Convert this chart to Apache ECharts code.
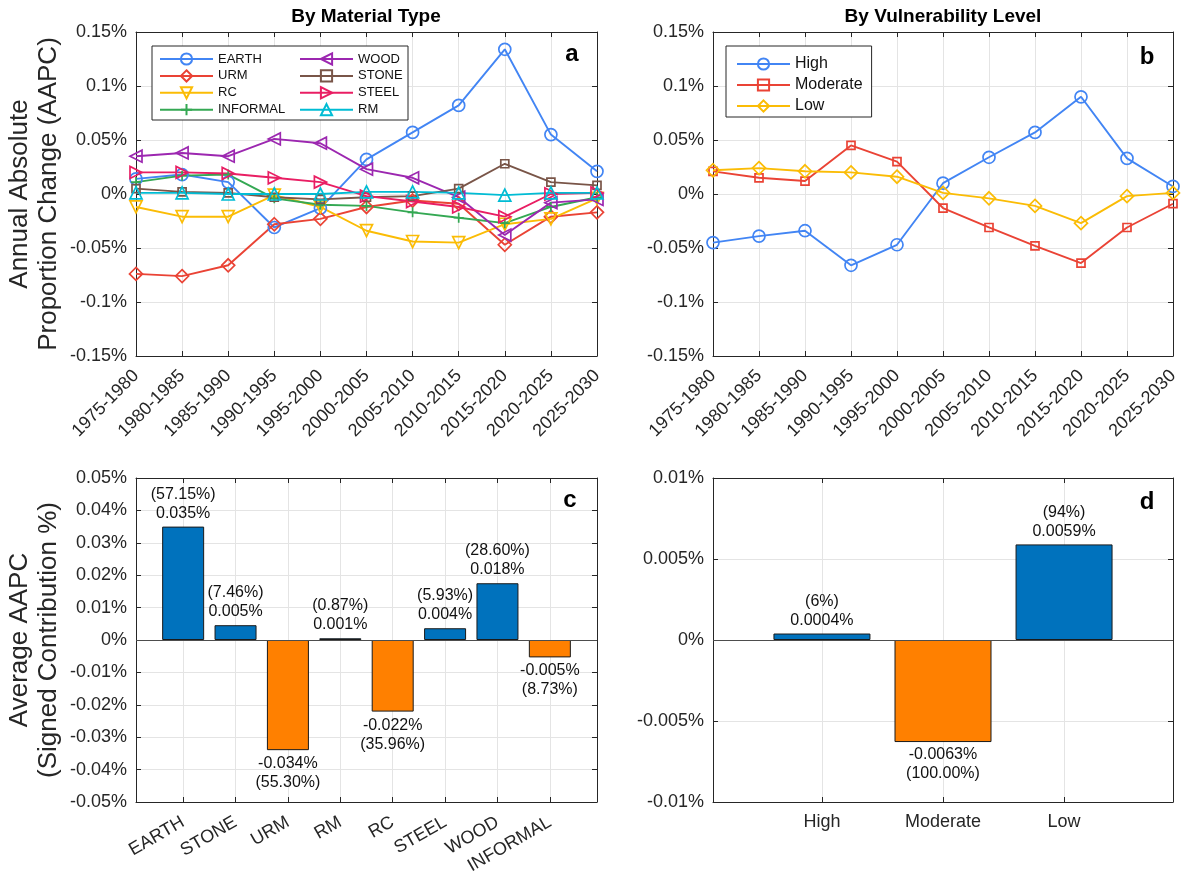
<!DOCTYPE html>
<html>
<head>
<meta charset="utf-8">
<script src="https://cdn.jsdelivr.net/npm/echarts@6/dist/echarts.min.js"></script>
<style>
  html, body { margin: 0; padding: 0; background: #ffffff; }
  #chart { width: 1186px; height: 872px; }
</style>
</head>
<body>
<div id="chart"></div>
<script>
// ---- data ----
const periods = ['1975-1980', '1980-1985', '1985-1990', '1990-1995', '1995-2000', '2000-2005',
                 '2005-2010', '2010-2015', '2015-2020', '2020-2025', '2025-2030'];

// AAPC by material type (%)
const earth    = [0.014, 0.018, 0.011, -0.031, -0.013, 0.032, 0.057, 0.082, 0.134, 0.055, 0.021];
const urm      = [-0.074, -0.076, -0.066, -0.028, -0.023, -0.012, -0.006, -0.009, -0.047, -0.021, -0.017];
const rc       = [-0.012, -0.021, -0.021, -0.001, -0.012, -0.034, -0.044, -0.045, -0.028, -0.023, -0.004];
const informal = [0.011, 0.017, 0.018, -0.004, -0.010, -0.011, -0.017, -0.022, -0.027, -0.012, -0.003];
const wood     = [0.035, 0.038, 0.035, 0.051, 0.047, 0.023, 0.015, -0.003, -0.038, -0.008, -0.005];
const stone    = [0.005, 0.002, 0.001, -0.003, -0.005, -0.003, -0.002, 0.005, 0.028, 0.011, 0.008];
const steel    = [0.020, 0.020, 0.019, 0.015, 0.011, -0.002, -0.007, -0.012, -0.021, 0.000, 0.001];
const rm       = [0.001, 0.001, 0.000, 0.000, 0.000, 0.002, 0.002, 0.001, -0.001, 0.001, 0.001];

// AAPC by vulnerability level (%)
const high     = [-0.045, -0.039, -0.034, -0.066, -0.047, 0.010, 0.034, 0.057, 0.090, 0.033, 0.007];
const moderate = [0.021, 0.015, 0.012, 0.045, 0.030, -0.013, -0.031, -0.048, -0.064, -0.031, -0.009];
const low      = [0.022, 0.024, 0.021, 0.020, 0.016, 0.001, -0.004, -0.011, -0.027, -0.002, 0.001];

// average AAPC per material and its signed contribution share
const barMaterials     = ['EARTH', 'STONE', 'URM', 'RM', 'RC', 'STEEL', 'WOOD', 'INFORMAL'];
const barMaterialAAPC  = [0.0350, 0.00457, -0.0340, 0.00053, -0.0221, 0.00363, 0.01752, -0.00537];
const barMaterialShare = ['57.15', '7.46', '55.30', '0.87', '35.96', '5.93', '28.60', '8.73'];

// average AAPC per vulnerability level and its signed contribution share
const barLevels     = ['High', 'Moderate', 'Low'];
const barLevelAAPC  = [0.0004, -0.0063, 0.0059];
const barLevelShare = ['6', '100.00', '94'];

// ---- styling ----
const FONT = "'Liberation Sans', Arial, Helvetica, sans-serif";
const AX = '#262626';
const GRIDC = '#e4e4e4';
const BLUE_BAR = '#0072BD';
const ORANGE_BAR = '#FF8000';

const TRI_UP = 'triangle';
const PLUS = 'path://M5,0L5,10M0,5L10,5';

const materialStyle = {
  EARTH:    { data: earth,    color: '#4285F4', symbol: 'circle',  size: 12, rotate: 0 },
  URM:      { data: urm,      color: '#EA4335', symbol: 'diamond', size: 13, rotate: 0 },
  RC:       { data: rc,       color: '#FBBC05', symbol: TRI_UP,    size: 12, rotate: 180 },
  INFORMAL: { data: informal, color: '#34A853', symbol: PLUS,      size: 10, rotate: 0 },
  WOOD:     { data: wood,     color: '#9C27B0', symbol: TRI_UP,    size: 12, rotate: 90 },
  STONE:    { data: stone,    color: '#795548', symbol: 'rect',    size: 8,  rotate: 0 },
  STEEL:    { data: steel,    color: '#E91E63', symbol: TRI_UP,    size: 12, rotate: -90 },
  RM:       { data: rm,       color: '#00BCD4', symbol: TRI_UP,    size: 12, rotate: 0 }
};
const levelStyle = {
  High:     { data: high,     color: '#4285F4', symbol: 'circle',  size: 12, rotate: 0 },
  Moderate: { data: moderate, color: '#EA4335', symbol: 'rect',    size: 8,  rotate: 0 },
  Low:      { data: low,      color: '#FBBC05', symbol: 'diamond', size: 13, rotate: 0 }
};

function pct(v) {
  let r = Math.round(v * 1e6) / 1e6;
  if (r === 0) r = 0;
  return r + '%';
}

function lineSeries(name, s, axisIndex) {
  return {
    type: 'line', name: name, data: s.data,
    xAxisIndex: axisIndex, yAxisIndex: axisIndex,
    symbol: s.symbol, symbolSize: s.size, symbolRotate: s.rotate,
    lineStyle: { color: s.color, width: 1.9 },
    itemStyle: { color: 'rgba(255,255,255,0)', borderColor: s.color, borderWidth: 1.7 },
    emphasis: { disabled: true },
    z: 3
  };
}

function barSeries(names, values, shares, axisIndex, width, digits, dist) {
  return {
    type: 'bar', name: 'bars' + axisIndex,
    xAxisIndex: axisIndex, yAxisIndex: axisIndex,
    barWidth: width,
    data: names.map((n, i) => ({
      value: [i + 1, values[i]],
      itemStyle: { color: values[i] >= 0 ? BLUE_BAR : ORANGE_BAR },
      label: { position: values[i] >= 0 ? 'top' : 'bottom' }
    })),
    itemStyle: { borderColor: '#1a1a1a', borderWidth: 1 },
    label: {
      show: true, distance: dist, fontFamily: FONT, fontSize: 16, lineHeight: 19,
      color: '#111', align: 'center',
      formatter: p => {
        const v = values[p.dataIndex];
        const s = '(' + shares[p.dataIndex] + '%)';
        const t = v.toFixed(digits) + '%';
        return v >= 0 ? s + '\n' + t : t + '\n' + s;
      }
    },
    markLine: {
      silent: true, symbol: 'none', animation: false,
      label: { show: false },
      lineStyle: { color: '#4d4d4d', width: 1, type: 'solid' },
      data: [{ yAxis: 0 }]
    },
    emphasis: { disabled: true },
    z: 3
  };
}

const axisLine = { show: true, onZero: false, lineStyle: { color: AX, width: 1 } };
const tick = { show: true, inside: true, length: 5, lineStyle: { color: AX, width: 1 } };
const split = { show: true, lineStyle: { color: GRIDC, width: 1 } };
const tickFont = { color: AX, fontFamily: FONT, fontSize: 18 };

// the four boxes keep fixed positions; labels may sit outside them
const grids = [
  { left: 136, top: 32, width: 461, height: 324, outerBoundsMode: 'none', containLabel: false },
  { left: 713, top: 32, width: 460, height: 324, outerBoundsMode: 'none', containLabel: false },
  { left: 136, top: 478, width: 461, height: 324, outerBoundsMode: 'none', containLabel: false },
  { left: 713, top: 478, width: 460, height: 324, outerBoundsMode: 'none', containLabel: false }
];

const yRanges = [
  { min: -0.15, max: 0.15, interval: 0.05 },
  { min: -0.15, max: 0.15, interval: 0.05 },
  { min: -0.05, max: 0.05, interval: 0.01 },
  { min: -0.01, max: 0.01, interval: 0.005 }
];

const materialTicks = barMaterials.map((n, i) => i + 1);
const levelTicks = barLevels.map((n, i) => i + 1);

const xAxes = [
  { type: 'category', gridIndex: 0, data: periods, boundaryGap: false,
    axisLine, axisTick: Object.assign({ interval: 0 }, tick), splitLine: Object.assign({ interval: 0 }, split),
    axisLabel: Object.assign({ interval: 0, rotate: 45, margin: 17 }, tickFont) },
  { type: 'category', gridIndex: 1, data: periods, boundaryGap: false,
    axisLine, axisTick: Object.assign({ interval: 0 }, tick), splitLine: Object.assign({ interval: 0 }, split),
    axisLabel: Object.assign({ interval: 0, rotate: 45, margin: 17 }, tickFont) },
  { type: 'value', gridIndex: 2, min: 0.1, max: 8.9,
    axisLine, axisTick: Object.assign({ customValues: materialTicks }, tick), splitLine: split,
    axisLabel: Object.assign({ customValues: materialTicks, rotate: 30, margin: 19,
      formatter: v => barMaterials[Math.round(v) - 1] }, tickFont) },
  { type: 'value', gridIndex: 3, min: 0.1, max: 3.9,
    axisLine, axisTick: Object.assign({ customValues: levelTicks }, tick), splitLine: split,
    axisLabel: Object.assign({ customValues: levelTicks, margin: 11,
      formatter: v => barLevels[Math.round(v) - 1] }, tickFont) }
];
// mirrored top edges of each box
xAxes.push(
  { type: 'category', gridIndex: 0, position: 'top', data: periods, boundaryGap: false,
    axisLine, axisTick: Object.assign({ interval: 0 }, tick), axisLabel: { show: false }, splitLine: { show: false } },
  { type: 'category', gridIndex: 1, position: 'top', data: periods, boundaryGap: false,
    axisLine, axisTick: Object.assign({ interval: 0 }, tick), axisLabel: { show: false }, splitLine: { show: false } },
  { type: 'value', gridIndex: 2, position: 'top', min: 0.1, max: 8.9,
    axisLine, axisTick: Object.assign({ customValues: materialTicks }, tick),
    axisLabel: { show: false }, splitLine: { show: false } },
  { type: 'value', gridIndex: 3, position: 'top', min: 0.1, max: 3.9,
    axisLine, axisTick: Object.assign({ customValues: levelTicks }, tick),
    axisLabel: { show: false }, splitLine: { show: false } }
);

const yAxes = [];
yRanges.forEach((r, i) => {
  yAxes.push({ type: 'value', gridIndex: i, min: r.min, max: r.max, interval: r.interval,
    axisLine, axisTick: tick, splitLine: split,
    axisLabel: Object.assign({ margin: 9, formatter: pct }, tickFont) });
});
yRanges.forEach((r, i) => {
  yAxes.push({ type: 'value', gridIndex: i, position: 'right', min: r.min, max: r.max, interval: r.interval,
    axisLine, axisTick: tick, splitLine: { show: false }, axisLabel: { show: false } });
});

const series = [];
Object.keys(materialStyle).forEach(n => series.push(lineSeries(n, materialStyle[n], 0)));
Object.keys(levelStyle).forEach(n => series.push(lineSeries(n, levelStyle[n], 1)));
series.push(barSeries(barMaterials, barMaterialAAPC, barMaterialShare, 2, 42, 3, 4));
series.push(barSeries(barLevels, barLevelAAPC, barLevelShare, 3, 97, 4, 3));

const legendBase = {
  orient: 'vertical', selectedMode: false, itemWidth: 53, itemHeight: 14, z: 6
};

function txt(x, y, text, font, extra) {
  const el = {
    type: 'text', x: x, y: y, z: 10, silent: true,
    style: { text: text, font: font, fill: '#000', align: 'center', verticalAlign: 'middle',
             textAlign: 'center', textVerticalAlign: 'middle' }
  };
  if (extra) {
    if (extra.rotation !== undefined) el.rotation = extra.rotation;
    if (extra.style) Object.assign(el.style, extra.style);
  }
  return el;
}

const option = {
  animation: false,
  backgroundColor: '#ffffff',
  grid: grids,
  xAxis: xAxes,
  yAxis: yAxes,
  series: series,
  legend: [
    Object.assign({}, legendBase, {
      data: ['EARTH', 'URM', 'RC', 'INFORMAL'], left: 159, top: 52, itemGap: 2.9, padding: 0,
      textStyle: { fontFamily: FONT, fontSize: 13, lineHeight: 14, color: '#111' }
    }),
    Object.assign({}, legendBase, {
      data: ['WOOD', 'STONE', 'STEEL', 'RM'], left: 299, top: 52, itemGap: 2.9, padding: 0,
      textStyle: { fontFamily: FONT, fontSize: 13, lineHeight: 14, color: '#111' }
    }),
    Object.assign({}, legendBase, {
      data: ['High', 'Moderate', 'Low'], left: 726, top: 46, itemGap: 5,
      padding: [10, 9, 3, 10], borderColor: AX, borderWidth: 1, backgroundColor: '#ffffff',
      textStyle: { fontFamily: FONT, fontSize: 16, lineHeight: 16, color: '#111' }
    })
  ],
  graphic: [
    { type: 'rect', z: 5, silent: true,
      shape: { x: 152, y: 46, width: 256, height: 74 },
      style: { fill: '#ffffff', stroke: AX, lineWidth: 1 } },
    txt(366, 17, 'By Material Type', 'bold 19px ' + FONT),
    txt(943, 17, 'By Vulnerability Level', 'bold 19px ' + FONT),
    txt(572, 54, 'a', 'bold 24px ' + FONT),
    txt(1147, 57, 'b', 'bold 24px ' + FONT),
    txt(570, 500, 'c', 'bold 24px ' + FONT),
    txt(1147, 502, 'd', 'bold 24px ' + FONT),
    txt(34, 194, 'Annual Absolute\nProportion Change (AAPC)', '26px ' + FONT,
        { rotation: Math.PI / 2, style: { fill: '#262626', lineHeight: 29 } }),
    txt(34, 640, 'Average AAPC\n(Signed Contribution %)', '26px ' + FONT,
        { rotation: Math.PI / 2, style: { fill: '#262626', lineHeight: 29 } })
  ]
};

const chart = echarts.init(document.getElementById('chart'), null, { renderer: 'canvas' });
chart.setOption(option);
</script>
</body>
</html>
